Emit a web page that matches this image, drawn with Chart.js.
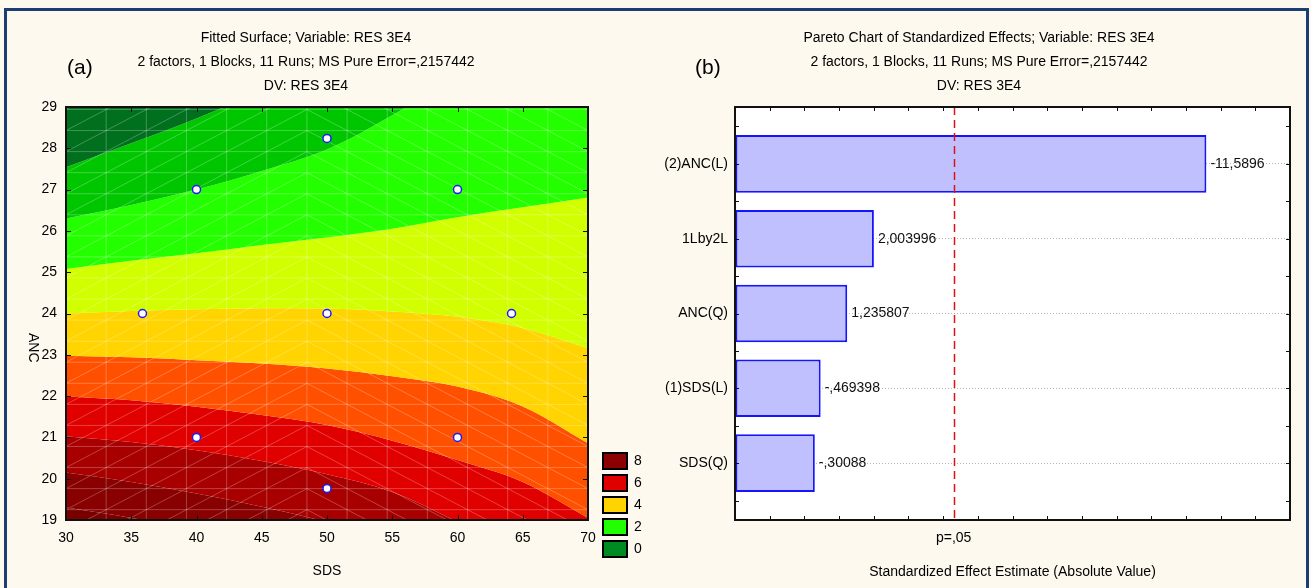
<!DOCTYPE html>
<html>
<head>
<meta charset="utf-8">
<script src="https://cdn.jsdelivr.net/npm/chart.js@4.4.1/dist/chart.umd.min.js"></script>
<style>
  html, body { margin: 0; padding: 0; background: #fef9ef; }
  body { width: 1311px; height: 588px; position: relative; overflow: hidden; font-family: 'Liberation Sans', Arial, sans-serif; color: #000; }
  #frame { position: absolute; left: 4px; top: 8px; width: 1299px; height: 600px; border: 3px solid #1c3f73; border-bottom: none; pointer-events: none; z-index: 5; }
  canvas { position: absolute; top: 0; }
  #surface { left: 0; }
  #pareto { left: 655px; }
  .tag { position: absolute; top: 55px; font-size: 21px; line-height: 24px; }
  #anc { position: absolute; left: 26px; top: 333px; writing-mode: vertical-rl; font-size: 14px; line-height: 16px; }
</style>
</head>
<body>
<canvas id="surface" width="655" height="588"></canvas>
<canvas id="pareto" width="650" height="588"></canvas>
<div class="tag" style="left:67px">(a)</div>
<div class="tag" style="left:695px">(b)</div>
<div id="anc">ANC</div>
<div id="frame"></div>
<script>
// ---- panel (a): fitted surface ----
const surfaceTitle = ["Fitted Surface; Variable: RES 3E4", "2 factors, 1 Blocks, 11 Runs; MS Pure Error=,2157442", "DV: RES 3E4"];
const sdsGrid = [30, 35, 40, 45, 50, 55, 60, 65, 70];
// contour boundaries (ANC value at each SDS of sdsGrid), top band to bottom band
const edgeDarkGreen = [27.54, 28.12, 28.72, 29.4, 30.2, 31.0, 31.9, 32.9, 34.0];
const edgeGreen = [26.30, 26.63, 27.0, 27.45, 27.97, 28.8, 29.8, 31.0, 32.3];
const edgeLime = [25.08, 25.28, 25.46, 25.66, 25.84, 26.05, 26.33, 26.57, 26.81];
const edgeYellowGreen = [24.0, 24.06, 24.10, 24.13, 24.12, 24.05, 23.92, 23.65, 23.16];
const edgeGold = [22.98, 22.94, 22.87, 22.79, 22.67, 22.48, 22.23, 21.75, 20.86];
const edgeOrange = [21.99, 21.90, 21.74, 21.54, 21.30, 20.92, 20.45, 19.92, 19.05];
const edgeRed = [21.03, 20.89, 20.69, 20.43, 20.11, 19.68, 18.95, 18.1, 17.1];
const edgeDarkRed = [20.15, 19.92, 19.64, 19.32, 18.95, 18.5, 18.0, 17.4, 16.7];
const edgeDeepRed = [19.30, 19.05, 18.75, 18.4, 18.0, 17.5, 17.0, 16.4, 15.7];
const bandColors = ["#00701e", "#00c600", "#24ff00", "#d2ff00", "#ffd400", "#ff5000", "#e00000", "#a80000", "#880000", "#7a0000"];
// design points
const runSds = [50, 40, 60, 35.86, 50, 64.14, 40, 60, 50];
const runAnc = [28.24, 27, 27, 24, 24, 24, 21, 21, 19.76];
const legendLevels = [8, 6, 4, 2, 0];
const legendColors = ["#8b0000", "#e00000", "#ffd400", "#22ff00", "#008a22"];
const meshStepSds = 40 / 13, meshStartAnc = 18.74, meshStepAnc = 0.51;

// ---- panel (b): pareto ----
const paretoTitle = ["Pareto Chart of Standardized Effects; Variable: RES 3E4", "2 factors, 1 Blocks, 11 Runs; MS Pure Error=,2157442", "DV: RES 3E4"];
const effectNames = ["(2)ANC(L)", "1Lby2L", "ANC(Q)", "(1)SDS(L)", "SDS(Q)"];
const effects = [-11.5896, 2.003996, 1.235807, -0.469398, -0.30088];
const pCrit = 4.303, pLabel = "p=,05";
const effMin = -2, effMax = 14;

Chart.defaults.font.family = "'Liberation Sans', Arial, sans-serif";
Chart.defaults.font.size = 14;
Chart.defaults.color = "#000";

function fmtEffect(v) {
    return String(v).replace(".", ",").replace(/^(-?)0,/, "$1,");
}

const frameTicks = {
    id: "frameTicks",
    afterDatasetsDraw(chart, args, opts) {
        const { ctx, chartArea: a, scales } = chart;
        const len = opts.len || 5;
        ctx.save();
        ctx.strokeStyle = "#111";
        ctx.lineWidth = 1;
        ctx.beginPath();
        scales.x.ticks.forEach(t => {
            if (opts.skipX && opts.skipX(t.value)) return;
            const px = Math.round(scales.x.getPixelForValue(t.value)) + 0.5;
            ctx.moveTo(px, a.bottom); ctx.lineTo(px, a.bottom - len);
            ctx.moveTo(px, a.top); ctx.lineTo(px, a.top + len);
        });
        const yVals = [];
        scales.y.ticks.forEach(t => {
            yVals.push(t.value);
            // pareto: minor ticks half way between categories
            if (opts.halfY) yVals.push(t.value - 0.5, t.value + 0.5);
        });
        yVals.forEach(v => {
            const py = Math.round(scales.y.getPixelForValue(v)) + 0.5;
            if (py < a.top || py > a.bottom) return;
            ctx.moveTo(a.left, py); ctx.lineTo(a.left + len, py);
            ctx.moveTo(a.right, py); ctx.lineTo(a.right - len, py);
        });
        ctx.stroke();
        ctx.lineWidth = opts.frame || 2;
        ctx.strokeRect(a.left, a.top, a.right - a.left, a.bottom - a.top);
        ctx.restore();
    }
};

const meshLines = {
    id: "meshLines",
    beforeDatasetDraw(chart, args) {
        if (args.meta.type !== "scatter") return;
        const { ctx, chartArea: a, scales: { x, y } } = chart;
        const xs = [], ys = [];
        for (let v = x.min; v <= x.max + 1e-6; v += meshStepSds) xs.push(x.getPixelForValue(v));
        for (let v = meshStartAnc; v <= y.max + meshStepAnc; v += meshStepAnc) ys.push(y.getPixelForValue(v));
        ctx.save();
        ctx.beginPath();
        ctx.rect(a.left, a.top, a.right - a.left, a.bottom - a.top);
        ctx.clip();
        ctx.strokeStyle = "rgba(255,255,255,0.25)";
        ctx.lineWidth = 1;
        ctx.beginPath();
        xs.forEach(px => { ctx.moveTo(px, a.top); ctx.lineTo(px, a.bottom); });
        ys.forEach(py => { ctx.moveTo(a.left, py); ctx.lineTo(a.right, py); });
        for (let i = 0; i < xs.length - 1; i++) {
            const mid = x.getValueForPixel((xs[i] + xs[i + 1]) / 2);
            for (let j = 0; j < ys.length - 1; j++) {
                if (mid < 50) { ctx.moveTo(xs[i], ys[j]); ctx.lineTo(xs[i + 1], ys[j + 1]); }
                else { ctx.moveTo(xs[i], ys[j + 1]); ctx.lineTo(xs[i + 1], ys[j]); }
            }
        }
        ctx.stroke();
        ctx.restore();
    }
};

const levelLegend = {
    id: "levelLegend",
    afterDraw(chart) {
        const { ctx, chartArea: a } = chart;
        ctx.save();
        ctx.font = "14px 'Liberation Sans', Arial, sans-serif";
        ctx.textBaseline = "middle";
        legendLevels.forEach((lv, i) => {
            const bx = a.right + 15, by = a.bottom - 67 + i * 22;
            ctx.fillStyle = legendColors[i];
            ctx.fillRect(bx, by, 24, 16);
            ctx.lineWidth = 2;
            ctx.strokeStyle = "#000";
            ctx.strokeRect(bx, by, 24, 16);
            ctx.fillStyle = "#000";
            ctx.fillText(String(lv), bx + 31, by + 8);
        });
        ctx.restore();
    }
};

const edges = [edgeDarkGreen, edgeGreen, edgeLime, edgeYellowGreen, edgeGold, edgeOrange, edgeRed, edgeDarkRed, edgeDeepRed];
const bandSets = edges.map((edge, i) => ({
    type: "line",
    data: sdsGrid.map((s, k) => ({ x: s, y: edge[k] })),
    fill: i === 0 ? "end" : "-1",
    backgroundColor: bandColors[i],
    borderWidth: 0,
    pointRadius: 0,
    cubicInterpolationMode: "monotone",
    order: 2
}));
bandSets.push({
    type: "line",
    data: sdsGrid.map((s, k) => ({ x: s, y: edgeDeepRed[k] })),
    fill: "start",
    backgroundColor: bandColors[9],
    borderWidth: 0,
    pointRadius: 0,
    cubicInterpolationMode: "monotone",
    order: 2
});

new Chart(document.getElementById("surface"), {
    type: "line",
    data: {
        datasets: bandSets.concat([{
            type: "scatter",
            data: runSds.map((s, i) => ({ x: s, y: runAnc[i] })),
            backgroundColor: "#ffffff",
            borderColor: "#1a1aff",
            borderWidth: 1.5,
            pointRadius: 4,
            order: 0
        }])
    },
    options: {
        responsive: false,
        animation: false,
        layout: { padding: { left: 0, right: 43, top: 0, bottom: 0 } },
        plugins: {
            legend: { display: false },
            tooltip: { enabled: false },
            title: {
                display: true,
                text: surfaceTitle,
                color: "#000",
                font: { size: 14, weight: "normal", lineHeight: "24px" },
                padding: { top: 26, bottom: 9 }
            },
            frameTicks: { len: 5, frame: 2 }
        },
        scales: {
            x: {
                type: "linear", min: 30, max: 70,
                ticks: { stepSize: 5, padding: 10 },
                grid: { display: false, drawTicks: false },
                border: { display: false },
                title: { display: true, text: "SDS", padding: { top: 0, bottom: 8 } },
                afterFit: s => { s.height = 68; }
            },
            y: {
                type: "linear", min: 19, max: 29,
                ticks: { stepSize: 1, padding: 9 },
                grid: { display: false, drawTicks: false },
                border: { display: false },
                afterFit: s => { s.width = 66; }
            },
            yr: {
                type: "linear", position: "right",
                ticks: { display: false },
                grid: { display: false, drawTicks: false },
                border: { display: false },
                afterFit: s => { s.width = 24; }
            }
        }
    },
    plugins: [meshLines, frameTicks, levelLegend]
});

const paretoMarks = {
    id: "paretoMarks",
    beforeDraw(chart) {
        const { ctx, chartArea: a } = chart;
        ctx.save();
        ctx.fillStyle = "#ffffff";
        ctx.fillRect(a.left, a.top, a.right - a.left, a.bottom - a.top);
        ctx.restore();
    },
    afterDatasetsDraw(chart) {
        const { ctx, chartArea: a, scales: { x } } = chart;
        ctx.save();
        const px = Math.round(x.getPixelForValue(pCrit)) + 0.5;
        ctx.strokeStyle = "#e01010";
        ctx.lineWidth = 1.5;
        ctx.setLineDash([8, 5]);
        ctx.beginPath();
        ctx.moveTo(px, a.top); ctx.lineTo(px, a.bottom);
        ctx.stroke();
        ctx.setLineDash([]);
        ctx.font = "14px 'Liberation Sans', Arial, sans-serif";
        ctx.fillStyle = "#111";
        ctx.textBaseline = "middle";
        chart.getDatasetMeta(0).data.forEach((bar, i) => {
            ctx.fillText(fmtEffect(effects[i]), bar.x + 4, bar.y);
        });
        ctx.restore();
    }
};

new Chart(document.getElementById("pareto"), {
    type: "bar",
    data: {
        datasets: [{
            data: effectNames.map((n, i) => ({ x: Math.abs(effects[i]), y: i })),
            base: effMin,
            backgroundColor: "#c0c0ff",
            borderColor: "#1414ff",
            borderWidth: 2,
            borderSkipped: false,
            categoryPercentage: 1,
            barPercentage: 0.77
        }]
    },
    options: {
        indexAxis: "y",
        responsive: false,
        animation: false,
        layout: { padding: { left: 0, right: 2, top: 0, bottom: 0 } },
        plugins: {
            legend: { display: false },
            tooltip: { enabled: false },
            title: {
                display: true,
                text: paretoTitle,
                color: "#000",
                font: { size: 14, weight: "normal", lineHeight: "24px" },
                padding: { top: 26, bottom: 9 }
            },
            frameTicks: { len: 4, frame: 2, halfY: true, skipX: v => v === pCrit }
        },
        scales: {
            x: {
                type: "linear", min: effMin, max: effMax,
                afterBuildTicks: s => {
                    const t = [];
                    for (let v = effMin; v <= effMax; v++) t.push({ value: v });
                    t.push({ value: pCrit });
                    t.sort((p, q) => p.value - q.value);
                    s.ticks = t;
                },
                ticks: { autoSkip: false, maxRotation: 0, padding: 10, callback: v => (v === pCrit ? pLabel : "") },
                grid: { drawOnChartArea: false, drawTicks: false },
                border: { display: false },
                title: { display: true, text: "Standardized Effect Estimate (Absolute Value)", padding: { top: 0, bottom: 7 } },
                afterFit: s => { s.height = 68; }
            },
            y: {
                type: "linear", reverse: true, offset: false,
                min: -0.76, max: effectNames.length - 0.24,
                afterBuildTicks: s => {
                    s.ticks = effectNames.map((n, i) => ({ value: i }));
                },
                ticks: { autoSkip: false, padding: 7, callback: v => effectNames[v] },
                grid: { offset: false, drawTicks: false, lineWidth: 1, color: "#b4b4b4" },
                border: { display: false, dash: [1, 2] },
                afterFit: s => { s.width = 80; }
            },
            yr: {
                type: "linear", position: "right",
                ticks: { display: false },
                grid: { display: false, drawTicks: false },
                border: { display: false },
                afterFit: s => { s.width = 13; }
            }
        }
    },
    plugins: [paretoMarks, frameTicks]
});
</script>
</body>
</html>
